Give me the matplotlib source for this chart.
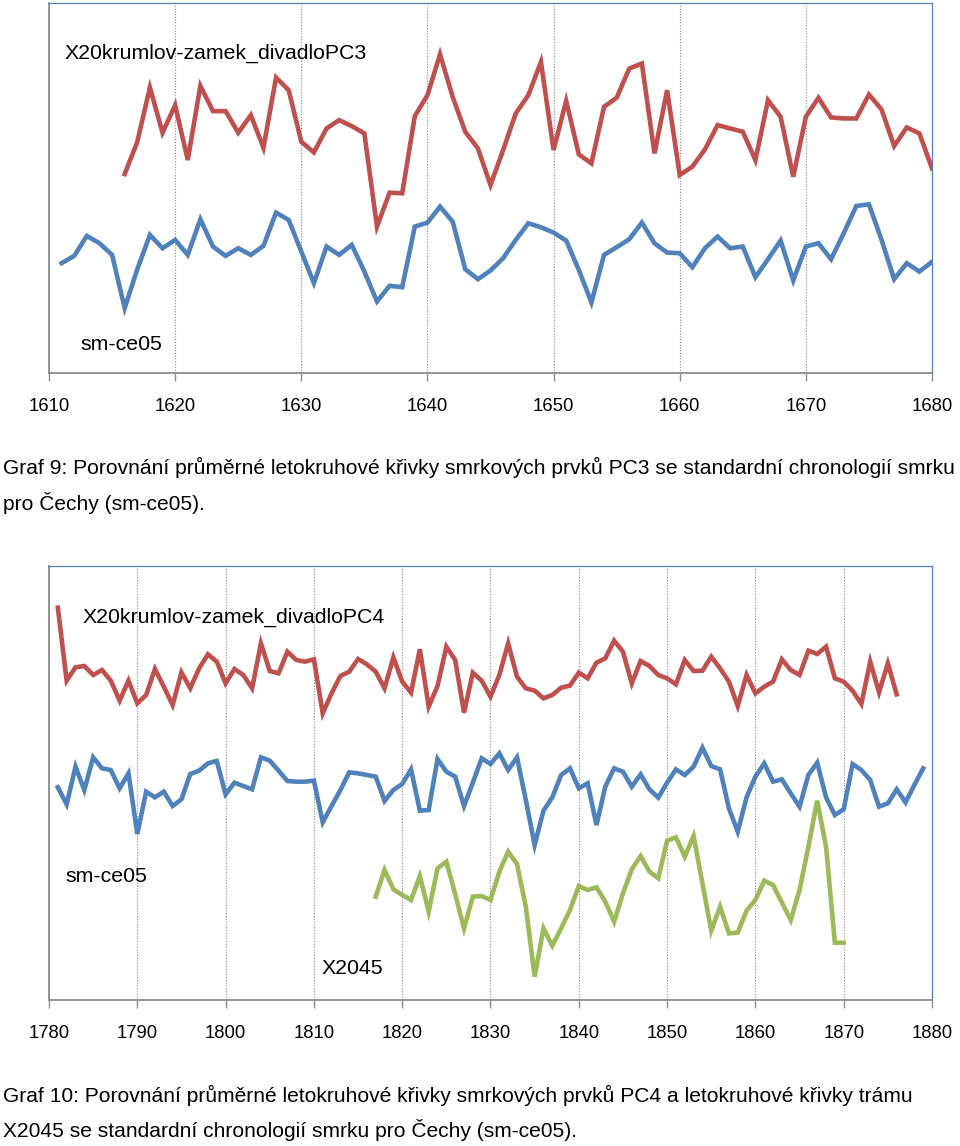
import numpy as np
import matplotlib
matplotlib.use("Agg")
import matplotlib.pyplot as plt

# Graf 9 - roky a hodnoty (libovolne jednotky)
roky_pc3 = list(range(1616, 1681))
pc3 = [598, 695, 858, 722, 805, 640, 863, 787, 787, 722, 775, 677, 888, 850, 695,
       663, 735, 760, 742, 720, 440, 542, 540, 772, 835, 958, 830, 725, 675, 565,
       670, 780, 835, 935, 670, 818, 657, 630, 800, 827, 915, 930, 660, 850, 595,
       620, 672, 745, 735, 725, 640, 820, 770, 590, 770, 827, 768, 765, 765, 837,
       792, 682, 738, 720, 615]
roky_sm_a = list(range(1611, 1681))
sm_a = [330, 352, 412, 390, 355, 195, 312, 415, 375, 400, 355, 462, 380, 352, 375,
        355, 382, 482, 460, 365, 270, 380, 355, 385, 305, 215, 262, 258, 440, 452,
        500, 455, 312, 282, 308, 345, 400, 450, 438, 422, 398, 310, 212, 355, 378,
        402, 452, 390, 362, 360, 318, 375, 410, 375, 380, 288, 342, 398, 278, 380,
        390, 342, 420, 502, 507, 400, 282, 330, 305, 334]

# Graf 10
roky_pc4 = list(range(1781, 1877))
pc4 = [1177, 958, 998, 1002, 975, 990, 958, 898, 958, 890, 915, 993, 940, 885, 983,
       935, 995, 1037, 1015, 950, 993, 975, 935, 1070, 987, 980, 1045, 1020, 1015, 1022,
       860, 920, 972, 985, 1023, 1007, 985, 935, 1028, 955, 922, 1052, 880, 942, 1060,
       1020, 862, 982, 958, 910, 975, 1070, 970, 935, 928, 905, 915, 937, 943, 982,
       965, 1012, 1025, 1078, 1045, 950, 1017, 1002, 975, 965, 947, 1020, 987, 988, 1030,
       995, 955, 882, 975, 920, 940, 955, 1022, 990, 975, 1048, 1038, 1060, 965, 955,
       928, 888, 1015, 923, 1010, 917]
roky_sm_b = list(range(1781, 1880))
sm_b = [638, 587, 700, 630, 728, 695, 690, 635, 680, 498, 625, 608, 625, 582, 602,
        678, 688, 710, 717, 617, 652, 642, 632, 728, 718, 688, 657, 655, 655, 658,
        533, 582, 630, 683, 680, 675, 670, 597, 630, 648, 692, 568, 570, 723, 685,
        670, 582, 652, 725, 708, 740, 690, 728, 600, 465, 568, 608, 675, 695, 635,
        650, 525, 640, 695, 685, 640, 677, 632, 607, 652, 692, 675, 700, 757, 702,
        692, 575, 505, 608, 670, 710, 655, 662, 620, 580, 675, 712, 608, 555, 572,
        708, 690, 660, 580, 590, 632, 593, 645, 695]
roky_x2045 = list(range(1817, 1871))
x2045 = [310, 390, 332, 315, 300, 372, 265, 395, 415, 318, 215, 310, 312, 300, 385,
         445, 408, 280, 70, 215, 163, 215, 270, 342, 330, 338, 295, 235, 320, 392,
         432, 385, 365, 478, 488, 430, 492, 350, 208, 280, 200, 202, 268, 300, 358,
         345, 292, 240, 330, 460, 598, 460, 172, 172]

cerv = "#C0504D"
modr = "#4F81BD"
zel = "#9BBB59"
font_graf = "Liberation Sans"
font_popis = ["Liberation Sans Narrow", "Liberation Sans"]

fig = plt.figure(figsize=(9.6, 11.46), dpi=100)


def priprav_osy(ax, xmin, xmax, ymax):
    ax.set_xlim(xmin, xmax)
    ax.set_ylim(0, ymax)
    ax.set_xticks(np.arange(xmin, xmax + 1, 10))
    ax.set_yticks([])
    for s in ("left", "bottom"):
        ax.spines[s].set_color("#8c8c8c")
        ax.spines[s].set_linewidth(1.3)
    for s in ("top", "right"):
        ax.spines[s].set_color(modr)
        ax.spines[s].set_linewidth(0.9)
    ax.tick_params(axis="x", direction="out", length=6, width=1, color="#8c8c8c",
                   labelsize=13.3, pad=12)
    for lab in ax.get_xticklabels():
        lab.set_fontfamily(font_graf)
    ax.grid(axis="x", linestyle=(0, (1, 1.5)), color="#888888", linewidth=0.8)
    ax.set_axisbelow(True)


# Graf 9
ax1 = fig.add_axes([49 / 960, 1 - 373 / 1146, 883 / 960, 370 / 1146])
priprav_osy(ax1, 1610, 1680, 1112)
ax1.plot(roky_pc3, pc3, color=cerv, linewidth=3.3, solid_joinstyle="miter")
ax1.plot(roky_sm_a, sm_a, color=modr, linewidth=3.3, solid_joinstyle="miter")
ax1.text(65 / 960, 1 - 53 / 1146, "X20krumlov-zamek_divadloPC3", transform=fig.transFigure,
         fontsize=15.3, family=font_graf, va="center", ha="left")
ax1.text(80 / 960, 1 - 345 / 1146, "sm-ce05", transform=fig.transFigure,
         fontsize=15.3, family=font_graf, va="center", ha="left")

fig.text(3 / 960, 1 - 467 / 1146,
         "Graf 9: Porovnání průměrné letokruhové křivky smrkových prvků PC3 se standardní chronologií smrku",
         fontsize=15.1, family=font_popis, va="center", ha="left")
fig.text(3 / 960, 1 - 503 / 1146, "pro Čechy (sm-ce05).",
         fontsize=15.1, family=font_popis, va="center", ha="left")

# Graf 10
ax2 = fig.add_axes([49 / 960, 1 - 1000 / 1146, 883 / 960, 434 / 1146])
priprav_osy(ax2, 1780, 1880, 1302)
ax2.plot(roky_pc4, pc4, color=cerv, linewidth=3.3, solid_joinstyle="miter")
ax2.plot(roky_sm_b, sm_b, color=modr, linewidth=3.3, solid_joinstyle="miter")
ax2.plot(roky_x2045, x2045, color=zel, linewidth=3.3, solid_joinstyle="miter")
ax2.text(83 / 960, 1 - 617 / 1146, "X20krumlov-zamek_divadloPC4", transform=fig.transFigure,
         fontsize=15.3, family=font_graf, va="center", ha="left")
ax2.text(65 / 960, 1 - 877 / 1146, "sm-ce05", transform=fig.transFigure,
         fontsize=15.3, family=font_graf, va="center", ha="left")
ax2.text(322 / 960, 1 - 968 / 1146, "X2045", transform=fig.transFigure,
         fontsize=15.3, family=font_graf, va="center", ha="left")

fig.text(3 / 960, 1 - 1095 / 1146,
         "Graf 10: Porovnání průměrné letokruhové křivky smrkových prvků PC4 a letokruhové křivky trámu",
         fontsize=15.1, family=font_popis, va="center", ha="left")
fig.text(3 / 960, 1 - 1130 / 1146, "X2045 se standardní chronologií smrku pro Čechy (sm-ce05).",
         fontsize=15.1, family=font_popis, va="center", ha="left")

fig.savefig("out.png", dpi=100)
